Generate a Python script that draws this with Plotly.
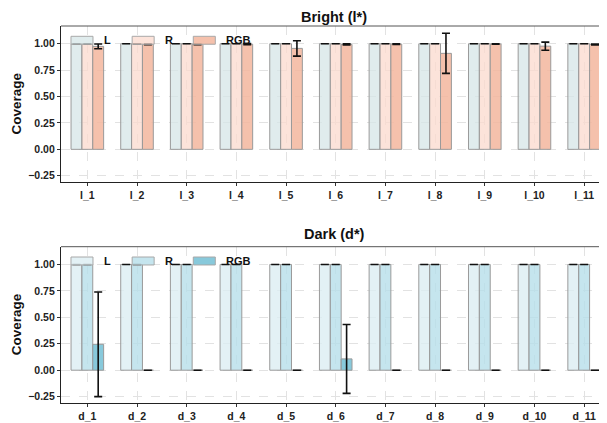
import plotly.graph_objects as go

# ---------------- data ----------------
bright_cats = ["l_1", "l_2", "l_3", "l_4", "l_5", "l_6", "l_7", "l_8", "l_9", "l_10", "l_11"]
dark_cats = ["d_1", "d_2", "d_3", "d_4", "d_5", "d_6", "d_7", "d_8", "d_9", "d_10", "d_11"]

bright_L = [1.0, 1.0, 1.0, 1.0, 1.0, 1.0, 1.0, 1.0, 1.0, 1.0, 1.0]
bright_L_err = [0, 0, 0, 0, 0, 0, 0, 0, 0, 0, 0]
bright_R = [1.0, 1.0, 1.0, 1.0, 1.0, 1.0, 1.0, 1.0, 1.0, 1.0, 1.0]
bright_R_err = [0, 0, 0, 0, 0, 0, 0, 0, 0, 0, 0]
bright_RGB = [0.975, 0.995, 0.995, 0.996, 0.956, 0.994, 0.997, 0.909, 0.998, 0.977, 0.993]
bright_RGB_err = [0.022, 0.004, 0.003, 0.005, 0.073, 0.005, 0.003, 0.19, 0.002, 0.038, 0.005]

dark_L = [1.0, 1.0, 1.0, 1.0, 1.0, 1.0, 1.0, 1.0, 1.0, 1.0, 1.0]
dark_L_err = [0, 0, 0, 0, 0, 0, 0, 0, 0, 0, 0]
dark_R = [1.0, 1.0, 1.0, 1.0, 1.0, 1.0, 1.0, 1.0, 1.0, 1.0, 1.0]
dark_R_err = [0, 0, 0, 0, 0, 0, 0, 0, 0, 0, 0]
dark_RGB = [0.245, 0.0, 0.0, 0.0, 0.0, 0.107, 0.0, 0.0, 0.0, 0.0, 0.0]
dark_RGB_err = [0.495, 0, 0, 0, 0, 0.326, 0, 0, 0, 0, 0]

series_names = ["L", "R", "RGB"]
y_tickvals = [-0.25, 0.0, 0.25, 0.5, 0.75, 1.0]
y_ticktext = ["\u22120.25", "0.00", "0.25", "0.50", "0.75", "1.00"]

# ---------------- style ----------------
bright_colors = ["rgba(214,230,231,0.75)", "rgba(251,218,206,0.75)", "rgba(243,182,157,0.85)"]
dark_colors = ["rgba(220,237,243,0.8)", "rgba(183,223,234,0.8)", "rgba(115,192,213,0.85)"]
edge = "#9a9a9a"
FONT = "Liberation Sans, Arial, sans-serif"

fig = go.Figure()

panels = [
    (bright_cats, [bright_L, bright_R, bright_RGB], [bright_L_err, bright_R_err, bright_RGB_err],
     bright_colors, "x", "y"),
    (dark_cats, [dark_L, dark_R, dark_RGB], [dark_L_err, dark_R_err, dark_RGB_err],
     dark_colors, "x2", "y2"),
]

for cats, vals, errs, cols, xa, ya in panels:
    for name, v, e, c in zip(series_names, vals, errs, cols):
        fig.add_trace(go.Bar(
            x=cats, y=v, name=name, xaxis=xa, yaxis=ya,
            offsetgroup=name, showlegend=False,
            marker=dict(color=c, line=dict(color=edge, width=1)),
            error_y=dict(type="data", array=e, visible=True, color="#111111",
                         thickness=1.6, width=4),
        ))

axis_common_x = dict(
    type="category", range=[-0.53, 10.46], showline=True, linecolor="#222222", linewidth=1.3,
    ticks="outside", ticklen=3, tickcolor="#333333", tickwidth=1,
    showgrid=True, gridcolor="#e2e2e2", griddash="dash", gridwidth=1,
    tickfont=dict(family=FONT, size=10.5, color="#222222", weight="bold"),
    zeroline=False,
)
axis_common_y = dict(
    range=[-0.31, 1.168], showline=True, linecolor="#222222", linewidth=1.3,
    ticks="outside", ticklen=3, tickcolor="#333333", tickwidth=1,
    tickvals=y_tickvals, ticktext=y_ticktext,
    showgrid=True, gridcolor="#e2e2e2", griddash="dash", gridwidth=1,
    tickfont=dict(family=FONT, size=10.5, color="#222222", weight="bold"),
    zeroline=False,
)

top_dom = [0.586, 1.0]
bot_dom = [0.0, 0.4146]

# the page body adds an 8px offset, so the figure is 8px smaller than the window
fig.update_layout(
    width=599, height=415,
    margin=dict(l=53, r=0, t=18, b=20),
    plot_bgcolor="white", paper_bgcolor="white",
    barmode="group", bargap=0.344, bargroupgap=0,
    xaxis=dict(axis_common_x, anchor="y", domain=[0, 1]),
    yaxis=dict(axis_common_y, anchor="x", domain=top_dom),
    xaxis2=dict(axis_common_x, anchor="y2", domain=[0, 1]),
    yaxis2=dict(axis_common_y, anchor="x2", domain=bot_dom),
    font=dict(family=FONT),
)

shapes = []
annotations = []
titles = ["Bright (l*)", "Dark (d*)"]
for (cats, vals, errs, cols, xa, ya), title, ysh in zip(panels, titles, [9.5, 12.5]):
    xd = xa + " domain"
    yd = ya + " domain"
    # top border line
    shapes.append(dict(type="line", xref=xd, yref=yd, x0=0, x1=1, y0=1, y1=1,
                       line=dict(color="#555555", width=1)))
    # panel title
    annotations.append(dict(text="<b>%s</b>" % title, xref=xd, yref=yd, x=0.5, y=1,
                            xanchor="center", yanchor="middle", yshift=ysh, showarrow=False,
                            font=dict(family=FONT, size=14.5, color="#111111")))
    # y-axis title
    annotations.append(dict(text="<b>Coverage</b>", xref="paper", yref=yd, x=-0.0815, y=0.5,
                            xanchor="center", yanchor="middle", textangle=-90, showarrow=False,
                            font=dict(family=FONT, size=13.5, color="#111111")))
    # custom legend (wide key rectangles inside the panel)
    for i, (name, c) in enumerate(zip(series_names, cols)):
        x0 = 0.0183 + i * 0.1120
        shapes.append(dict(type="rect", xref=xd, yref=yd, x0=x0, x1=x0 + 0.0403,
                           y0=0.883, y1=0.934, fillcolor=c, layer="above",
                           line=dict(color="#a8a8a8", width=1)))
        annotations.append(dict(text="<b>%s</b>" % name, xref=xd, yref=yd, x=x0 + 0.0563,
                                y=0.9085, xanchor="left", yanchor="middle", showarrow=False,
                                font=dict(family=FONT, size=11, color="#111111")))

fig.update_layout(shapes=shapes, annotations=annotations)

fig.write_html("out.html")
